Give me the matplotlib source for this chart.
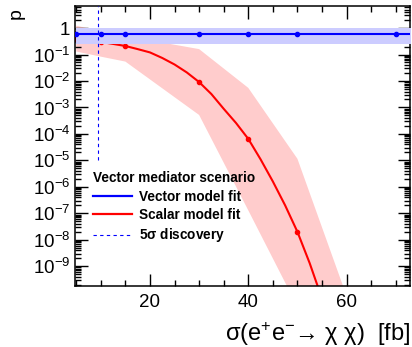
import matplotlib
matplotlib.use('Agg')
import matplotlib.pyplot as plt
from matplotlib.lines import Line2D
from matplotlib.ticker import MultipleLocator, LogLocator, FuncFormatter, NullFormatter
import numpy as np

plt.rcParams['font.family'] = ['Liberation Sans', 'DejaVu Sans']
plt.rcParams['mathtext.fontset'] = 'custom'
plt.rcParams['mathtext.rm'] = 'Liberation Sans'
plt.rcParams['mathtext.it'] = 'Liberation Sans:italic'
plt.rcParams['mathtext.bf'] = 'Liberation Sans:bold'

# cross section points [fb]
xsec = [5, 10, 15, 30, 40, 50, 70, 80]

# vector model fit: p-value and band
vec_p = [0.58, 0.58, 0.58, 0.58, 0.58, 0.58, 0.58, 0.58]
vec_lo = [0.25, 0.25, 0.25, 0.25, 0.25, 0.25, 0.25, 0.25]
vec_hi = [1.0, 1.0, 1.0, 1.0, 1.0, 1.0, 1.0, 1.0]

# scalar model fit: p-value at the points and band
sca_p = [0.38, 0.30, 0.21, 9.1e-3, 6.5e-5, 2.0e-8, 1e-17, 1e-20]
sca_lo = [0.13, 0.083, 0.054, 5.2e-4, 1.3e-7, 3e-11, 1e-18, 1e-22]
sca_hi = [1.23, 0.76, 0.50, 0.16, 5.5e-3, 1.15e-5, 5e-16, 1e-20]

# smooth scalar curve
sca_curve_x = [5, 10, 15, 17.5, 20, 22.5, 25, 27.5, 30, 32.5, 35, 37.5,
               40, 42.5, 45, 47.5, 50, 52.5, 55]
sca_curve_p = [0.38, 0.30, 0.21, 0.16, 0.12, 0.074, 0.042, 0.021, 9.1e-3,
               3.2e-3, 8.9e-4, 2.6e-4, 6.5e-5, 1.1e-5, 1.6e-6, 2.0e-7,
               2.0e-8, 1.3e-9, 6e-11]

# 5 sigma discovery line
disc_xsec = 9.5
disc_p_floor = 1e-5

xlim = (4.65, 72.9)
ylim = (1.8e-10, 6.8)

fig = plt.figure(figsize=(4.12, 3.47), dpi=100)
ax = fig.add_axes([74.5 / 412, 1 - 286 / 347, 335.5 / 412, 280 / 347])

ax.fill_between(xsec, sca_lo, sca_hi, color='#ffcccc', lw=0, zorder=1)
ax.plot(sca_curve_x, sca_curve_p, color='red', lw=1.5, zorder=2)
ax.plot(xsec, sca_p, 'o', color='red', ms=3, zorder=2)

ax.fill_between(xsec, vec_lo, vec_hi, color='#ccccff', lw=0, zorder=3)
ax.plot(xsec, vec_p, '-o', color='blue', lw=1.5, ms=3, zorder=4)

ax.plot([disc_xsec, disc_xsec], [disc_p_floor, ylim[1]], color='blue',
        lw=0.8, dashes=(3, 3), zorder=5)

ax.set_yscale('log')
ax.set_xlim(*xlim)
ax.set_ylim(*ylim)

ax.xaxis.set_major_locator(MultipleLocator(20))
ax.xaxis.set_minor_locator(MultipleLocator(5))
ax.yaxis.set_major_locator(LogLocator(base=10, numticks=30))
ax.yaxis.set_minor_locator(LogLocator(base=10, subs=np.arange(2, 10), numticks=30))
ax.yaxis.set_minor_formatter(NullFormatter())


def fmt(v, pos):
    e = int(round(np.log10(v)))
    if e == 0:
        return '1'
    return r'$\mathregular{10^{%d}}$' % e


ax.yaxis.set_major_formatter(FuncFormatter(fmt))

ax.tick_params(which='both', direction='in', top=True, right=True,
               labelsize=13.5, width=1)
ax.tick_params(which='major', length=9)
ax.tick_params(which='minor', length=4.5)
ax.tick_params(axis='x', pad=6)
ax.tick_params(axis='y', pad=3)
for s in ax.spines.values():
    s.set_linewidth(1.1)

handles = [Line2D([], [], color='blue', lw=1.6),
           Line2D([], [], color='red', lw=1.6),
           Line2D([], [], color='blue', lw=0.8, dashes=(3, 3))]
labels = ['Vector model fit', 'Scalar model fit', r'5$\mathregular{\sigma}$ discovery']
ax.legend(handles, labels, title='Vector mediator scenario', loc='upper left',
          bbox_to_anchor=(0.055, 0.41), frameon=False,
          prop={'weight': 'bold', 'size': 9.8},
          title_fontproperties={'weight': 'bold', 'size': 9.8},
          alignment='left', handlelength=2.9, handletextpad=0.5,
          labelspacing=0.32, borderpad=0, borderaxespad=0)

fig.text(25 / 412, 1 - 8 / 347, 'p', rotation=90, ha='right', va='top',
         fontsize=14)
fig.text(410 / 412, 1 - 341 / 347,
         r'σ($\mathregular{e^{+}e^{-}}$→ χ χ)  [fb]', ha='right',
         va='baseline', fontsize=17)

fig.savefig('out.png', dpi=100)
